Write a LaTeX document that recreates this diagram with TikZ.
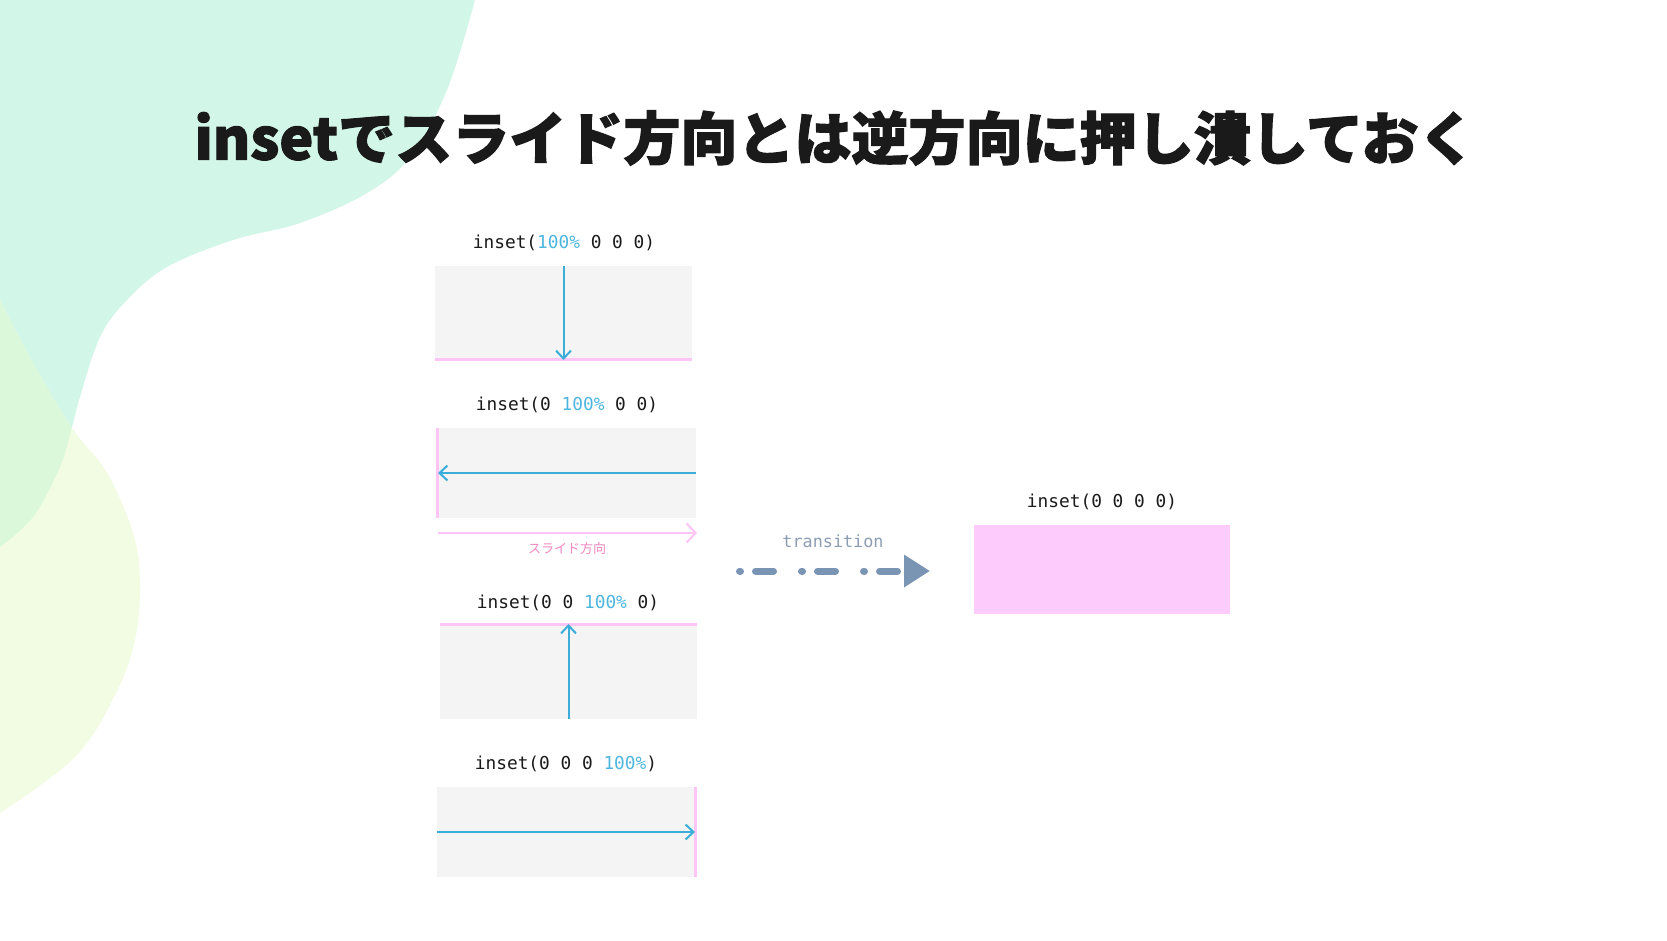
\documentclass[tikz,border=0pt]{standalone}
\usepackage{fontspec}
\usepackage{graphicx}
\usetikzlibrary{arrows.meta}
\newfontfamily\titlefont{Noto Sans CJK JP Black}[FakeBold=2]
\newfontfamily\jpfont{Noto Sans CJK JP}
\newfontfamily\codefont{DejaVu Sans Mono}
\definecolor{mint}{HTML}{D2F6E8}
\definecolor{lemon}{HTML}{F2FCE2}
\definecolor{overlapgreen}{HTML}{DCF8DA}
\definecolor{cblue}{HTML}{3AAED8}
\definecolor{ctextblue}{HTML}{4EB6DE}
\definecolor{cpinkline}{HTML}{FCC5F6}
\definecolor{cpinkbox}{HTML}{FECCFC}
\definecolor{cgraybox}{HTML}{F4F4F4}
\definecolor{cpinktext}{HTML}{F288C0}
\definecolor{cslate}{HTML}{7A95B4}
\definecolor{cslatetext}{HTML}{8C9DB3}
\definecolor{cink}{HTML}{1A1A1A}
\begin{document}
\begin{tikzpicture}[x=1pt,y=-1pt,
  graybox/.style={fill=cgraybox, draw=none, inner sep=0pt, outer sep=0pt},
  pinkbox/.style={fill=cpinkbox, draw=none, inner sep=0pt, outer sep=0pt},
  pinkedge/.style={draw=cpinkline, line width=3pt},
  bluearrow/.style={draw=cblue, line width=2pt, -{Straight Barb[length=8pt,width=15pt]}},
  pinkarrow/.style={draw=cpinkline, line width=2pt, -{Straight Barb[length=9pt,width=19pt]}},
  codelbl/.style={font=\codefont\fontsize{17.8}{20}\selectfont, text=cink, inner sep=0pt},
  translbl/.style={font=\codefont\fontsize{16.8}{20}\selectfont, text=cslatetext, inner sep=0pt},
  slidelbl/.style={font=\jpfont\fontsize{13}{15}\selectfont, text=cpinktext, inner sep=0pt},
  titlelbl/.style={text=cink, inner sep=0pt},
  dasharrow/.style={draw=cslate, line width=7pt, line cap=round,
    dash pattern=on 1pt off 15pt on 18pt off 28pt,
    -{Triangle[length=26pt,width=31pt]}}
]
\useasboundingbox (0,0) rectangle (1667,940);
\fill[white] (0,0) rectangle (1667,940);
% background blobs
\def\mintpath{(0,0) -- (475,0) -- plot[smooth, tension=0.6] coordinates {(475,0) (447,90) (410,157) (367,193) (300,223) (233,240) (167,267) (127,300) (100,337) (80,397) (72,427) (60,467) (33,517) (0,547)} -- cycle}
\def\lemonpath{(0,300) -- plot[smooth, tension=0.6] coordinates {(0,300) (33,363) (72,428) (107,473) (133,533) (140,583) (135,640) (115,695) (75,757) (0,813)} -- cycle}
\fill[mint] \mintpath;
\fill[lemon] \lemonpath;
\begin{scope}
  \clip \lemonpath;
  \fill[overlapgreen] \mintpath;
\end{scope}
% title
\node[titlelbl] (title) at (835,138) {\resizebox{1281pt}{!}{\titlefont\fontsize{56}{60}\selectfont insetでスライド方向とは逆方向に押し潰しておく}};
% box 1
\node[codelbl] (l1) at (564,243) {inset(\textcolor{ctextblue}{100\%} 0 0 0)};
\node[graybox, minimum width=257pt, minimum height=92pt] (b1) at (563.5,312) {};
\draw[pinkedge] ([yshift=-1.5pt]b1.south west) -- ([yshift=-1.5pt]b1.south east);
\draw[bluearrow] (b1.north) -- ([yshift=-2pt]b1.south);
% box 2
\node[codelbl] (l2) at (567,405) {inset(0 \textcolor{ctextblue}{100\%} 0 0)};
\node[graybox, minimum width=260pt, minimum height=90pt] (b2) at (566,473) {};
\draw[pinkedge] ([xshift=1.5pt]b2.north west) -- ([xshift=1.5pt]b2.south west);
\draw[bluearrow] (b2.east) -- ([xshift=2pt]b2.west);
\coordinate (s1) at (438,533);
\coordinate (s2) at (697,533);
\draw[pinkarrow] (s1) -- (s2);
\node[slidelbl] (sl) at (567,549) {スライド方向};
% box 3
\node[codelbl] (l3) at (568,603) {inset(0 0 \textcolor{ctextblue}{100\%} 0)};
\node[graybox, minimum width=257pt, minimum height=93pt] (b3) at (568.5,672.5) {};
\draw[pinkedge] ([yshift=1.5pt]b3.north west) -- ([yshift=1.5pt]b3.north east);
\draw[bluearrow] (b3.south) -- ([yshift=2pt]b3.north);
% box 4
\node[codelbl] (l4) at (566,764) {inset(0 0 0 \textcolor{ctextblue}{100\%})};
\node[graybox, minimum width=260pt, minimum height=90pt] (b4) at (567,832) {};
\draw[pinkedge] ([xshift=-1.5pt]b4.north east) -- ([xshift=-1.5pt]b4.south east);
\draw[bluearrow] (b4.west) -- ([xshift=-2pt]b4.east);
% transition
\node[translbl] (tl) at (833,541) {transition};
\coordinate (ts) at (739.5,571);
\coordinate (te) at (930,571);
\draw[dasharrow] (ts) -- (te);
% target
\node[codelbl] (lt) at (1102,502) {inset(0 0 0 0)};
\node[pinkbox, minimum width=256pt, minimum height=89pt] (bt) at (1102,569.5) {};
\end{tikzpicture}
\end{document}
